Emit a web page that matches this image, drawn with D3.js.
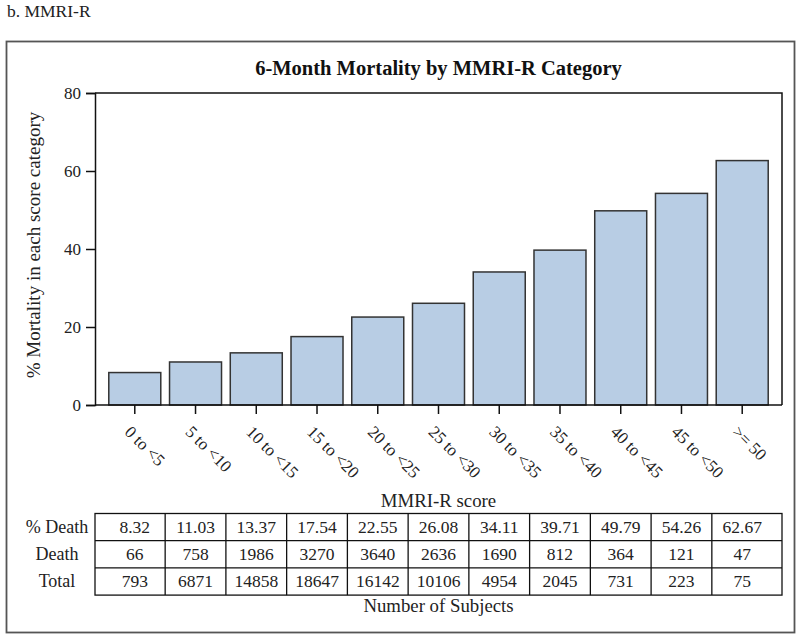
<!DOCTYPE html>
<html>
<head>
<meta charset="utf-8">
<script src="https://cdn.jsdelivr.net/npm/d3@7"></script>
<style>
  html, body { margin: 0; padding: 0; background: #fff; }
  svg { display: block; font-family: "Liberation Serif", "Times New Roman", serif; }
</style>
</head>
<body>
<div id="chart"></div>
<script>
const categories = ["0 to <5", "5 to <10", "10 to <15", "15 to <20", "20 to <25", "25 to <30",
                    "30 to <35", "35 to <40", "40 to <45", "45 to <50", ">= 50"];
const pctDeath = [8.32, 11.03, 13.37, 17.54, 22.55, 26.08, 34.11, 39.71, 49.79, 54.26, 62.67];
const deaths = [66, 758, 1986, 3270, 3640, 2636, 1690, 812, 364, 121, 47];
const totals = [793, 6871, 14858, 18647, 16142, 10106, 4954, 2045, 731, 223, 75];
const yTicks = [0, 20, 40, 60, 80];
const rowLabels = ["% Death", "Death", "Total"];

const W = 800, H = 638;
const FF = "'Liberation Serif', 'Times New Roman', serif";
const svg = d3.select("#chart").append("svg").attr("width", W).attr("height", H)
  .attr("font-family", FF);

// panel label
svg.append("text").attr("x", 7).attr("y", 16.5).attr("font-size", 17.5).attr("fill", "#222").text("b. MMRI-R");

// outer frame
svg.append("rect").attr("x", 6.5).attr("y", 41.5).attr("width", 788).attr("height", 591)
  .attr("fill", "none").attr("stroke", "#555").attr("stroke-width", 1.8);

const pL = 95, pR = 782, pT = 93, pB = 405;

const x = d3.scaleBand().domain(categories).range([pL, pR]).paddingInner(0.144).paddingOuter(0.227);
const y = d3.scaleLinear().domain([0, 80]).range([pB, pT]);

// title
svg.append("text").attr("x", (pL + pR) / 2).attr("y", 75).attr("text-anchor", "middle")
  .attr("font-size", 20.5).attr("font-weight", "bold").attr("fill", "#111")
  .text("6-Month Mortality by MMRI-R Category");

// bars
svg.append("g").selectAll("rect").data(categories).join("rect")
  .attr("x", d => x(d)).attr("width", x.bandwidth())
  .attr("y", (d, i) => y(pctDeath[i])).attr("height", (d, i) => pB - y(pctDeath[i]))
  .attr("fill", "#b8cde4").attr("stroke", "#333").attr("stroke-width", 1.5);

// plot frame (top and right)
svg.append("path").attr("d", `M${pL},${pT}H${pR}V${pB}`)
  .attr("fill", "none").attr("stroke", "#111").attr("stroke-width", 1.5);

// y axis
const yAxis = svg.append("g").attr("transform", `translate(${pL},0)`)
  .call(d3.axisLeft(y).tickValues(yTicks).tickSize(9).tickPadding(5));
yAxis.attr("font-family", FF).attr("font-size", 17);
yAxis.select(".domain").attr("stroke", "#111").attr("stroke-width", 1.5);
yAxis.selectAll(".tick line").attr("stroke", "#111").attr("stroke-width", 1.5);
yAxis.selectAll(".tick text").attr("fill", "#222");

// y title
svg.append("text").attr("transform", `translate(40,245) rotate(-90)`).attr("text-anchor", "middle")
  .attr("font-size", 19).attr("fill", "#222").text("% Mortality in each score category");

// x axis
const xAxis = svg.append("g").attr("transform", `translate(0,${pB})`)
  .call(d3.axisBottom(x).tickSize(9).tickSizeOuter(0));
xAxis.attr("font-family", FF).attr("font-size", 17);
xAxis.select(".domain").attr("stroke", "#111").attr("stroke-width", 1.5)
  .attr("d", `M${pL},0H${pR}`);
xAxis.selectAll(".tick line").attr("stroke", "#111").attr("stroke-width", 1.5);
xAxis.selectAll(".tick text")
  .attr("fill", "#222")
  .attr("text-anchor", "start").attr("y", 0).attr("dy", 0)
  .attr("transform", "translate(-11,28) rotate(45)");

// x title
svg.append("text").attr("x", (pL + pR) / 2).attr("y", 506.5).attr("text-anchor", "middle")
  .attr("font-size", 18.8).attr("fill", "#222").text("MMRI-R score");

// table
const tableTop = 513.5, rowH = 27.2;
const centers = categories.map(c => x(c) + x.bandwidth() / 2);
const bounds = [pL];
for (let i = 0; i < centers.length - 1; i++) bounds.push((centers[i] + centers[i + 1]) / 2);
bounds.push(pR);
const rows = [pctDeath.map(v => v.toFixed(2)), deaths.map(String), totals.map(String)];
const tg = svg.append("g");
tg.append("rect").attr("x", pL).attr("y", tableTop).attr("width", pR - pL).attr("height", rowH * 3)
  .attr("fill", "none").attr("stroke", "#111").attr("stroke-width", 1.3);
[1, 2].forEach(r => tg.append("line").attr("x1", pL).attr("x2", pR)
  .attr("y1", tableTop + r * rowH).attr("y2", tableTop + r * rowH).attr("stroke", "#111").attr("stroke-width", 1.3));
bounds.slice(1, -1).forEach(b => tg.append("line").attr("x1", b).attr("x2", b)
  .attr("y1", tableTop).attr("y2", tableTop + 3 * rowH).attr("stroke", "#111").attr("stroke-width", 1.3));
rows.forEach((row, r) => {
  tg.append("text").attr("x", 57).attr("y", tableTop + r * rowH + 19.5).attr("text-anchor", "middle")
    .attr("font-size", 18).attr("fill", "#222").text(rowLabels[r]);
  tg.selectAll(null).data(row).join("text")
    .attr("x", (d, i) => centers[i]).attr("y", tableTop + r * rowH + 19.5).attr("text-anchor", "middle")
    .attr("font-size", 17.5).attr("fill", "#222").text(d => d);
});

svg.append("text").attr("x", (pL + pR) / 2).attr("y", 612).attr("text-anchor", "middle")
  .attr("font-size", 18.8).attr("fill", "#222").text("Number of Subjects");
</script>
</body>
</html>
